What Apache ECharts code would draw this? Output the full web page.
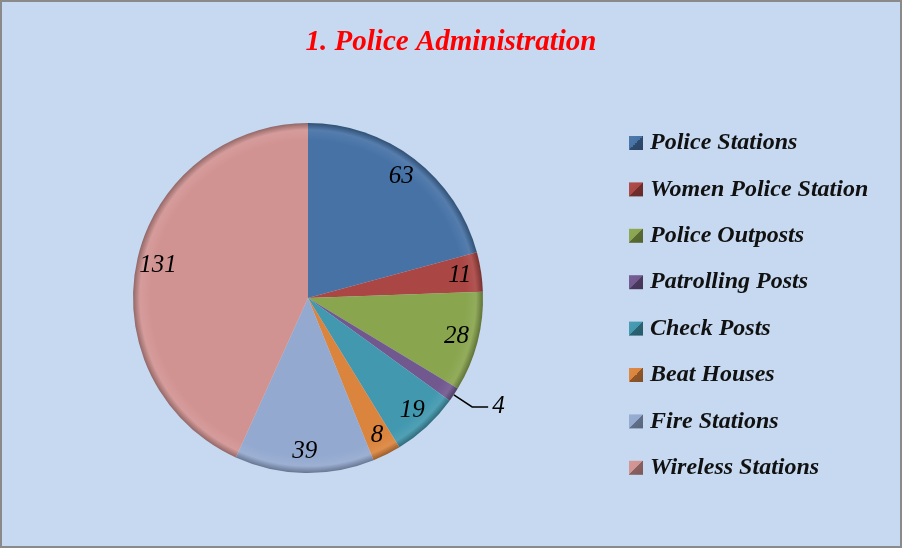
<!DOCTYPE html>
<html>
<head>
<meta charset="utf-8">
<script src="https://cdn.jsdelivr.net/npm/echarts@6/dist/echarts.min.js"></script>
<style>
  html, body { margin: 0; padding: 0; background: #ffffff; }
  #frame {
    width: 902px; height: 548px; box-sizing: border-box;
    border: 2px solid #8a8a8a; background: #c6d9f1;
  }
  #chart { width: 898px; height: 544px; }
</style>
</head>
<body>
<div id="frame"><div id="chart"></div></div>
<script>
// values
const categories = [
  "Police Stations", "Women Police Station", "Police Outposts", "Patrolling Posts",
  "Check Posts", "Beat Houses", "Fire Stations", "Wireless Stations"
];
const counts = [63, 11, 28, 4, 19, 8, 39, 131];
const colors = ["#4672a6", "#aa4644", "#89a54e", "#71588f", "#4198af", "#db843d", "#93a9cf", "#d19392"];
const outsideLabels = ["Patrolling Posts"];

const CENTER = [306, 296];
const RADIUS = 175;

function shade(hex, f) {
  const n = parseInt(hex.slice(1), 16);
  const c = [(n >> 16) & 255, (n >> 8) & 255, n & 255].map(function (v) {
    return Math.round(f < 0 ? v * (1 + f) : v + (255 - v) * f);
  });
  return "rgb(" + c.join(",") + ")";
}

// bevel-ish rim around the pie edge
function rimFill(hex) {
  return {
    type: "radial", x: CENTER[0], y: CENTER[1], r: RADIUS, global: true,
    colorStops: [
      { offset: 0, color: hex },
      { offset: 0.9, color: hex },
      { offset: 0.96, color: shade(hex, 0.08) },
      { offset: 1, color: shade(hex, -0.3) }
    ]
  };
}

function iconFill(hex) {
  return {
    type: "linear", x: 0, y: 0, x2: 1, y2: 1,
    colorStops: [
      { offset: 0, color: shade(hex, 0.05) },
      { offset: 0.5, color: hex },
      { offset: 0.5, color: shade(hex, -0.35) },
      { offset: 1, color: shade(hex, -0.4) }
    ]
  };
}

const numFont = {
  fontFamily: "Liberation Serif", fontStyle: "italic", fontSize: 25, color: "#000000"
};

const pieData = categories.map(function (name, i) {
  const outside = outsideLabels.indexOf(name) >= 0;
  return {
    name: name,
    value: counts[i],
    itemStyle: { color: rimFill(colors[i]) },
    label: { show: outside },
    labelLine: { show: outside }
  };
});

const labelData = categories.map(function (name, i) {
  const outside = outsideLabels.indexOf(name) >= 0;
  return { name: name, value: counts[i], label: { show: !outside } };
});

const chart = echarts.init(document.getElementById("chart"));
chart.setOption({
  backgroundColor: "transparent",
  animation: false,
  title: {
    text: "1. Police Administration",
    left: "center",
    top: 21,
    textStyle: {
      fontFamily: "Liberation Serif", fontStyle: "italic", fontWeight: "bold",
      fontSize: 29, color: "#ff0000"
    }
  },
  legend: {
    orient: "vertical",
    left: 622,
    top: 124,
    itemWidth: 14,
    itemHeight: 14,
    itemGap: 22.4,
    icon: "rect",
    selectedMode: false,
    textStyle: {
      fontFamily: "Liberation Serif", fontStyle: "italic", fontWeight: "bold",
      fontSize: 24, color: "#111111", padding: [0, 0, 0, 2]
    },
    data: categories.map(function (name, i) {
      return { name: name, itemStyle: { color: iconFill(colors[i]) } };
    })
  },
  series: [
    {
      type: "pie",
      center: CENTER,
      radius: RADIUS,
      startAngle: 90,
      clockwise: true,
      z: 2,
      data: pieData,
      itemStyle: { borderWidth: 0 },
      label: Object.assign({ position: "outside", formatter: "{c}", distanceToLabelLine: 4 }, numFont),
      labelLine: {
        length: 22, length2: 16, smooth: false,
        lineStyle: { color: "#000000", width: 1.5 }
      },
      emphasis: { disabled: true }
    },
    {
      // transparent twin so the inner labels sit near the rim
      type: "pie",
      center: CENTER,
      radius: [0, RADIUS * 1.72],
      startAngle: 90,
      clockwise: true,
      silent: true,
      z: 5,
      data: labelData,
      itemStyle: { color: "rgba(0,0,0,0)", borderWidth: 0 },
      label: Object.assign({ position: "inside", formatter: "{c}" }, numFont),
      labelLine: { show: false },
      emphasis: { disabled: true },
      tooltip: { show: false }
    }
  ]
});
</script>
</body>
</html>
